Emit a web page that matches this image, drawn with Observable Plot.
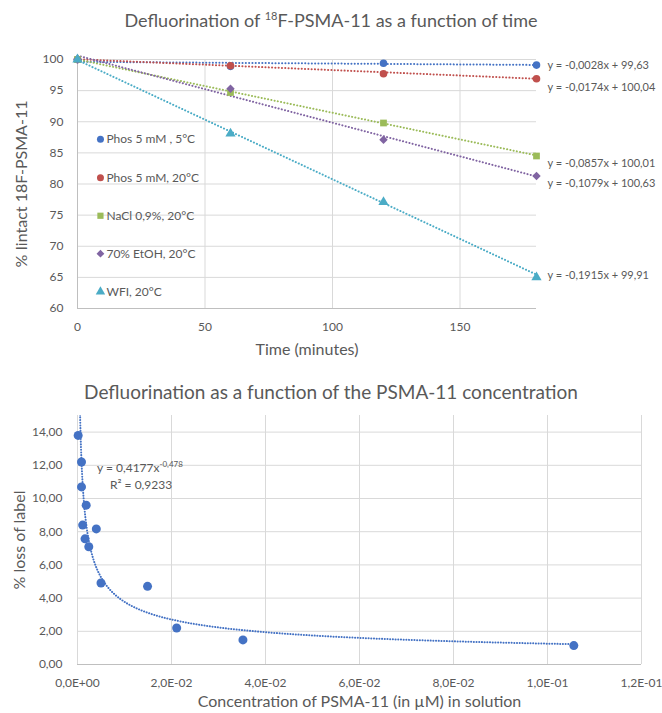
<!DOCTYPE html>
<html>
<head>
<meta charset="utf-8">
<script src="https://cdn.jsdelivr.net/npm/d3@7"></script>
<script src="https://cdn.jsdelivr.net/npm/@observablehq/plot@0.6"></script>
<style>
  body { margin: 0; background: #fff; font-family: Lato, "Open Sans", sans-serif; }
  #wrap { position: relative; width: 662px; height: 713px; overflow: hidden; }
  .title { position: absolute; left: 0; width: 662px; text-align: center; color: #595959; }
  .title sup { font-size: 11px; vertical-align: 7px; line-height: 0; }
  .chart { position: absolute; left: 0; }
  .eq { position: absolute; color: #595959; font-size: 12px; white-space: nowrap; }
  .eq sup { font-size: 8px; vertical-align: 5px; line-height: 0; }
</style>
</head>
<body>
<div id="wrap">
  <div class="title" style="top:9px; font-size:18px">Defluorination of <sup>18</sup>F-PSMA-11 as a function of time</div>
  <div class="chart" id="c1" style="top:40px"></div>
  <div class="title" style="top:380px; font-size:19px">Defluorination as a function of the PSMA-11 concentration</div>
  <div class="chart" id="c2" style="top:400px"></div>
  <div class="eq" id="powEq" style="left:97px; top:460px">y = 0,4177x<sup>-0,478</sup></div>
  <div class="eq" id="r2" style="left:110px; top:477px">R² = 0,9233</div>
</div>
<script>
// ---------- Chart 1 data ----------
const times = [0, 60, 120, 180];
const seriesNames = ["Phos 5 mM , 5°C", "Phos 5 mM, 20°C", "NaCl 0,9%, 20°C", "70% EtOH, 20°C", "WFI, 20°C"];
const phos5C = [100, 98.9, 99.4, 99.1];
const phos20C = [100, 99.0, 97.7, 96.9];
const nacl20C = [100, 94.7, 89.8, 84.5];
const etoh20C = [100, 95.3, 87.1, 81.3];
const wfi20C = [100, 88.1, 77.1, 65.0];
const slopes = [-0.0028, -0.0174, -0.0857, -0.1079, -0.1915];
const intercepts = [99.63, 100.04, 100.01, 100.63, 99.91];
const equations = ["y = -0,0028x + 99,63", "y = -0,0174x + 100,04", "y = -0,0857x + 100,01", "y = -0,1079x + 100,63", "y = -0,1915x + 99,91"];
const eqLabelY = [99.0, 95.5, 83.3, 80.1, 65.3];
const legendY = [87.2, 81.0, 74.9, 68.8, 62.7];
const colors = ["#4472C4", "#C0504D", "#9BBB59", "#8064A2", "#4BACC6"];
const symbols = ["circle", "circle", "square", "diamond2", "triangle"];
const yTicks1 = [60, 65, 70, 75, 80, 85, 90, 95, 100];
const xTicks1 = [0, 50, 100, 150];

// ---------- Chart 2 data ----------
const conc = [0.00014, 0.00085, 0.00085, 0.00185, 0.0011, 0.0040, 0.0016, 0.0024, 0.0050, 0.0149, 0.0211, 0.0352, 0.1056];
const lossPct = [13.8, 12.2, 10.7, 9.6, 8.4, 8.17, 7.57, 7.09, 4.91, 4.71, 2.2, 1.48, 1.14];
const powerA = 0.4177;
const powerB = -0.478;
const yTicks2 = [0, 2, 4, 6, 8, 10, 12, 14];
const xTicks2 = [0, 0.02, 0.04, 0.06, 0.08, 0.1, 0.12];

const seriesValues = [phos5C, phos20C, nacl20C, etoh20C, wfi20C];
const points1 = seriesValues.flatMap((vals, i) => vals.map((v, j) => ({t: times[j], v, s: i})));
const trend1 = slopes.flatMap((a, i) => [times[0], times[times.length - 1]].map(t => ({t, v: a * t + intercepts[i], s: i})));
const eqRows = equations.map((e, i) => ({e, y: eqLabelY[i], s: i}));
const legRows = seriesNames.map((n, i) => ({n, y: legendY[i], s: i}));

const font = "Lato, 'Open Sans', sans-serif";
const grid = "#D9D9D9";
const axisCol = "#BFBFBF";
const txt = "#595959";

const chart1 = Plot.plot({
  width: 662, height: 320,
  marginLeft: 77, marginRight: 126, marginTop: 19, marginBottom: 52,
  x: {domain: [0, 180]},
  y: {domain: [60, 100]},
  style: {fontFamily: font, fontSize: "12px", color: txt, background: "transparent"},
  marks: [
    Plot.gridY(yTicks1.slice(1), {stroke: grid, strokeOpacity: 1}),
    Plot.gridX(xTicks1.slice(1), {stroke: grid, strokeOpacity: 1}),
    Plot.ruleX([0], {stroke: axisCol}),
    Plot.ruleY([60], {stroke: axisCol}),
    Plot.axisY({ticks: yTicks1, tickSize: 0, tickPadding: 14, label: "% Iintact 18F-PSMA-11", labelAnchor: "center", labelOffset: 62, labelArrow: "none", fontSize: 12}),
    Plot.axisX({ticks: xTicks1, tickSize: 0, tickPadding: 14, label: "Time (minutes)", labelAnchor: "center", labelOffset: 46, labelArrow: "none", fontSize: 12}),
    Plot.line(trend1, {x: "t", y: "v", z: "s", stroke: d => colors[d.s], strokeWidth: 2, strokeDasharray: "0.1,3.2", strokeLinecap: "round"}),
    Plot.dot(points1, {x: "t", y: "v", fill: d => colors[d.s], symbol: d => symbols[d.s], r: 3.8, stroke: "none"}),
    Plot.text(eqRows, {x: 180, y: "y", text: "e", textAnchor: "start", dx: 11, fill: txt, fontSize: 11}),
    Plot.dot(legRows, {x: 9, y: "y", fill: d => colors[d.s], symbol: d => symbols[d.s], r: 3.5, stroke: "none"}),
    Plot.text(legRows, {x: 9, y: "y", text: "n", textAnchor: "start", dx: 6, fill: txt, fontSize: 12})
  ]
});
document.getElementById("c1").append(chart1);

const fmtExp = d => {
  const [m, e] = d.toExponential(1).split("e");
  const sign = e[0];
  const digits = e.slice(1).padStart(2, "0");
  return m.replace(".", ",") + "E" + sign + digits;
};
const fmtDec = d => d.toFixed(2).replace(".", ",");

const xMin = d3.min(conc), xMax = d3.max(conc);
const curve = d3.range(0, 301).map(i => {
  const x = Math.exp(Math.log(xMin) + (Math.log(xMax) - Math.log(xMin)) * i / 300);
  return {x, y: powerA * Math.pow(x, powerB)};
});
const points2 = conc.map((c, i) => ({x: c, y: lossPct[i]}));

const chart2 = Plot.plot({
  width: 662, height: 313,
  marginLeft: 77, marginRight: 21, marginTop: 15, marginBottom: 49,
  x: {domain: [0, 0.12]},
  y: {domain: [0, 15]},
  style: {fontFamily: font, fontSize: "12px", color: txt, background: "transparent"},
  marks: [
    Plot.gridY(yTicks2.slice(1), {stroke: grid, strokeOpacity: 1}),
    Plot.gridX(xTicks2, {stroke: grid, strokeOpacity: 1}),
    Plot.ruleY([0], {stroke: axisCol}),
    Plot.axisY({ticks: yTicks2, tickFormat: fmtDec, tickSize: 0, tickPadding: 15, label: "% loss of label", labelAnchor: "center", labelOffset: 64, labelArrow: "none", fontSize: 12}),
    Plot.axisX({ticks: xTicks2, tickFormat: fmtExp, tickSize: 0, tickPadding: 14, label: "Concentration of PSMA-11 (in µM) in solution", labelAnchor: "center", labelOffset: 42, labelArrow: "none", fontSize: 12}),
    Plot.line(curve, {x: "x", y: "y", stroke: "#4472C4", strokeWidth: 2, strokeDasharray: "0.1,2.6", strokeLinecap: "round", clip: true}),
    Plot.dot(points2, {x: "x", y: "y", r: 4.5, fill: "#4472C4", stroke: "none"})
  ]
});
document.getElementById("c2").append(chart2);

// Larger axis titles (the reference uses bigger axis-title text than tick text)
for (const [svg, size] of [[chart1, 16], [chart2, 16]]) {
  svg.querySelectorAll("g[aria-label='y-axis label'] text, g[aria-label='x-axis label'] text, g[aria-label='y-axis label'], g[aria-label='x-axis label']").forEach(el => el.setAttribute("font-size", size));
}
</script>
</body>
</html>
